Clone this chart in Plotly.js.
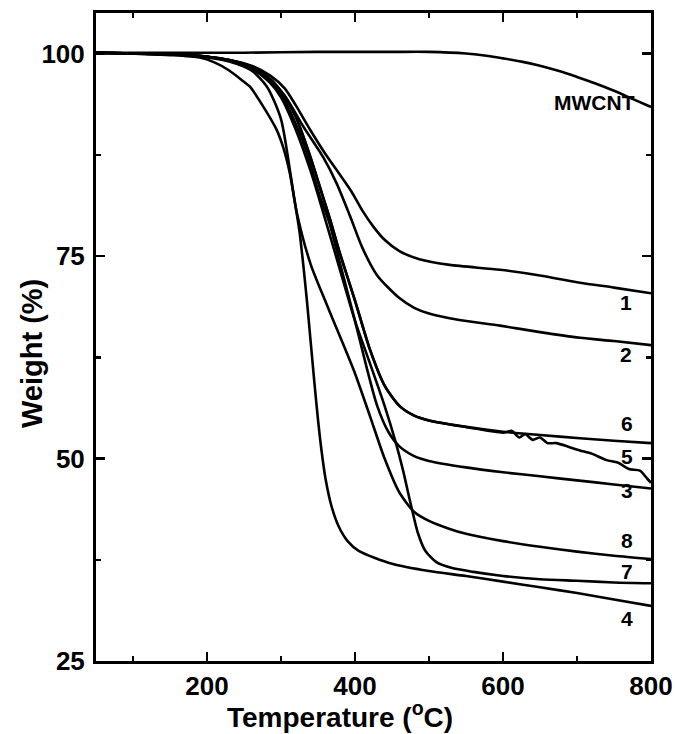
<!DOCTYPE html>
<html>
<head>
<meta charset="utf-8">
<script src="https://cdn.plot.ly/plotly-3.0.1.min.js"></script>
<style>html,body{margin:0;padding:0;background:#fff;}#chart{width:675px;height:734px;}</style>
</head>
<body>
<div id="chart"></div>
<script>
// Temperature (°C) samples and weight (%) for each sample
const tMWCNT = [50, 150, 250, 350, 450, 500, 550, 580, 600, 625, 650, 677, 700, 725, 750, 775, 800];
const wMWCNT = [100.1, 100.1, 100.1, 100.2, 100.2, 100.2, 100.0, 99.7, 99.4, 99.0, 98.5, 97.8, 97.1, 96.3, 95.4, 94.4, 93.4];

const t1 = [50, 150, 200, 230, 260, 285, 305, 320, 340, 360, 380, 395, 410, 425, 440, 460, 487, 528, 596, 650, 704, 750, 800];
const w1 = [100.1, 99.9, 99.6, 99.2, 98.5, 97.3, 95.7, 93.6, 90.5, 87.6, 85.0, 83.0, 80.6, 78.6, 77.0, 75.6, 74.6, 73.9, 73.3, 72.6, 71.7, 71.1, 70.4];

const t2 = [50, 150, 200, 230, 260, 285, 305, 330, 357, 375, 393, 410, 430, 460, 480, 500, 541, 596, 650, 704, 750, 800];
const w2 = [100.1, 99.9, 99.6, 99.1, 98.3, 96.8, 94.8, 91.0, 87.2, 84.0, 80.0, 76.0, 72.6, 69.8, 68.6, 67.9, 67.1, 66.4, 65.6, 64.9, 64.5, 64.0];

const t3 = [50, 150, 200, 230, 260, 285, 300, 320, 335, 352, 365, 380, 400, 415, 430, 445, 460, 480, 500, 550, 600, 650, 700, 750, 800];
const w3 = [100.1, 99.9, 99.6, 99.1, 98.2, 96.6, 95.0, 91.3, 87.7, 82.5, 79.2, 74.0, 67.0, 61.5, 56.5, 53.3, 51.5, 50.3, 49.7, 48.9, 48.3, 47.8, 47.3, 46.8, 46.3];

const t4 = [50, 150, 190, 210, 230, 250, 258, 275, 294, 303, 312, 319, 325, 330, 335, 340, 345, 350, 355, 360, 368, 378, 390, 405, 450, 500, 550, 600, 650, 700, 750, 800];
const w4 = [100.1, 99.8, 99.5, 98.9, 97.9, 96.5, 95.9, 93.6, 90.6, 88.4, 85.2, 81.5, 78.0, 74.0, 69.5, 64.5, 59.5, 54.8, 50.8, 47.6, 44.2, 41.6, 39.8, 38.6, 37.0, 36.1, 35.5, 34.8, 34.1, 33.4, 32.6, 31.8];

const t5 = [50, 150, 200, 230, 260, 285, 305, 320, 338, 355, 366, 380, 400, 420, 440, 460, 480, 500, 550, 600, 612, 622, 630, 640, 650, 660, 672, 690, 704, 720, 740, 755, 770, 785, 795, 800];
const w5 = [100.1, 99.9, 99.6, 99.2, 98.4, 96.9, 94.7, 92.2, 87.7, 82.8, 79.6, 75.2, 69.5, 63.5, 59.0, 56.5, 55.3, 54.7, 53.9, 53.2, 53.4, 52.6, 53.0, 52.3, 52.6, 51.9, 51.9, 51.4, 51.0, 50.6, 49.8, 49.5, 48.7, 48.5, 47.5, 47.0];

const t6 = [50, 150, 200, 230, 260, 285, 305, 320, 338, 355, 366, 380, 400, 420, 440, 460, 480, 500, 550, 600, 650, 704, 750, 800];
const w6 = [100.1, 99.9, 99.6, 99.2, 98.4, 96.9, 94.7, 92.2, 87.7, 82.8, 79.6, 75.2, 69.5, 63.5, 59.0, 56.5, 55.3, 54.7, 53.9, 53.3, 52.9, 52.5, 52.2, 51.9];

const t7 = [50, 150, 200, 230, 260, 285, 300, 320, 340, 355, 380, 400, 420, 440, 455, 465, 475, 485, 495, 510, 530, 560, 600, 650, 700, 750, 800];
const w7 = [100.1, 99.9, 99.6, 99.1, 98.2, 96.4, 94.6, 90.6, 85.5, 81.0, 73.2, 67.0, 61.8, 56.5, 52.0, 48.5, 44.5, 40.8, 38.6, 37.2, 36.5, 36.0, 35.5, 35.1, 34.9, 34.7, 34.6];

const t8 = [50, 150, 200, 230, 260, 281, 300, 321, 340, 360, 380, 400, 420, 440, 460, 480, 500, 528, 550, 600, 650, 700, 750, 800];
const w8 = [100.1, 99.9, 99.5, 99.0, 97.9, 95.9, 91.9, 80.5, 74.0, 69.4, 65.0, 60.5, 55.3, 50.0, 45.8, 43.4, 42.3, 41.3, 40.7, 39.8, 39.1, 38.5, 38.0, 37.6];

const labelText = ["MWCNT", "1", "2", "6", "5", "3", "8", "7", "4"];
const labelX = [724, 766, 766, 768, 768, 767, 767, 767, 767];
const labelY = [93.9, 69.2, 62.8, 54.3, 50.2, 46.1, 39.9, 36.0, 30.3];

const xTitle = 'Temperature (<sup>o</sup>C)';
const yTitle = 'Weight (%)';

const series = [[tMWCNT, wMWCNT], [t1, w1], [t2, w2], [t3, w3], [t4, w4], [t5, w5], [t6, w6], [t7, w7], [t8, w8]];
const names = ["MWCNT", "1", "2", "3", "4", "5", "6", "7", "8"];

const traces = series.map((s, i) => ({
  x: s[0], y: s[1], name: names[i], type: 'scatter', mode: 'lines',
  line: {color: '#000', width: 2.6, shape: 'spline', smoothing: 0.7},
  showlegend: false, hoverinfo: 'skip'
}));

const fontFam = '"Liberation Sans", Arial, Helvetica, sans-serif';
const annotations = labelText.map((t, i) => ({
  x: labelX[i], y: labelY[i], xref: 'x', yref: 'y', text: t, showarrow: false,
  font: {family: fontFam, size: 21, color: '#000', weight: 700}
}));
annotations.push({
  x: 0.44, y: -0.083, xref: 'paper', yref: 'paper', xanchor: 'center', yanchor: 'middle',
  text: xTitle, showarrow: false, font: {family: fontFam, size: 28, color: '#000', weight: 700}
});
annotations.push({
  x: -0.115, y: 0.474, xref: 'paper', yref: 'paper', xanchor: 'center', yanchor: 'middle',
  text: yTitle, textangle: -90, showarrow: false, font: {family: fontFam, size: 29, color: '#000', weight: 700}
});

const axisCommon = {
  showgrid: false, zeroline: false, showline: true, linecolor: '#000', linewidth: 3,
  mirror: 'ticks', ticks: 'inside', ticklen: 9, tickwidth: 2.5, tickcolor: '#000',
  tickfont: {family: fontFam, size: 26, color: '#000', weight: 700}
};

const layout = {
  width: 675, height: 734,
  margin: {l: 96, r: 24, t: 13, b: 73},
  paper_bgcolor: '#fff', plot_bgcolor: '#fff',
  xaxis: Object.assign({}, axisCommon, {
    range: [50, 800], tick0: 0, dtick: 200,
    minor: {dtick: 100, ticks: 'inside', ticklen: 5, tickwidth: 2.5, tickcolor: '#000'}
  }),
  yaxis: Object.assign({}, axisCommon, {
    range: [25, 105], tick0: 0, dtick: 25, ticklabelstandoff: 3,
    minor: {dtick: 12.5, ticks: 'inside', ticklen: 5, tickwidth: 2.5, tickcolor: '#000'}
  }),
  annotations: annotations
};

Plotly.newPlot('chart', traces, layout, {displayModeBar: false, staticPlot: true});
</script>
</body>
</html>
